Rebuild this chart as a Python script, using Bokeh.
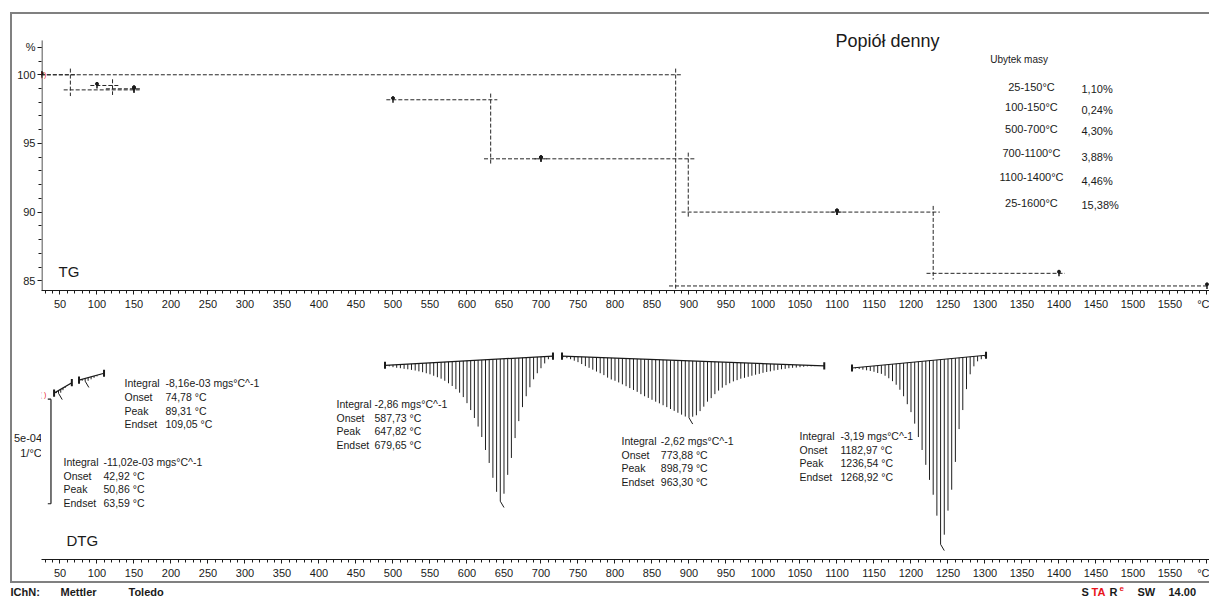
import numpy as np
from bokeh.plotting import figure
from bokeh.layouts import column, row
from bokeh.models import Label, FixedTicker, Range1d, Spacer
from bokeh.embed import file_html
from bokeh.resources import INLINE

FONT = "Liberation Sans"
INK = "#1a1a1a"
FRAME_GREY = "#808080"
RED = "#e8141b"

# ---------------- shared temperature axis (°C) ----------------
x_major = list(range(50, 1601, 50))
x_minor = list(range(30, 1601, 10))
x_start, x_end = 25, 1603.4

# ---------------- TG: stepwise mass-loss evaluations ----------------
step_ranges = ["25-150°C", "100-150°C", "500-700°C", "700-1100°C", "1100-1400°C", "25-1600°C"]
step_loss = [1.10, 0.24, 4.30, 3.88, 4.46, 15.38]          # %
step_start = [25, 100, 500, 700, 1100, 25]                 # °C
step_end = [150, 150, 700, 1100, 1400, 1600]               # °C
step_mid = [64, 121, 632, 899, 1230, 882]                  # °C, step position
step_upper = [100.00, 99.22, 98.18, 93.88, 90.00, 100.00]  # % before step

tg_major = [85, 90, 95, 100, 102]
tg_minor = list(range(84, 103))
tg_axis_top = 102.5

# ---------------- DTG: integrated peaks ----------------
peak_integral = ["-11,02e-03", "-8,16e-03", "-2,86", "-2,62", "-3,19"]
peak_onset = [42.92, 74.78, 587.73, 773.88, 1182.97]
peak_top = [50.86, 89.31, 647.82, 898.79, 1236.54]
peak_endset = [63.59, 109.05, 679.65, 963.30, 1268.92]

# integration baselines, DTG in 1e-4 1/°C
base_t0 = [42.0, 75.7, 489.2, 728.4, 1120.3]
base_v0 = [-2.52, -1.90, -1.19, -0.75, -1.32]
base_t1 = [66.0, 109.5, 716.2, 1082.8, 1301.4]
base_v1 = [-2.02, -1.57, -0.75, -1.22, -0.71]

# DTG curve samples inside each integration window
dtg_a_t = [42, 45, 48, 51, 54, 57, 60, 63, 66]
dtg_a_v = [-2.52, -2.52, -2.53, -2.50, -2.38, -2.27, -2.17, -2.10, -2.02]

dtg_b_t = [76, 80, 84, 88, 92, 96, 100, 104, 108]
dtg_b_v = [-1.90, -1.93, -1.95, -1.93, -1.86, -1.79, -1.72, -1.65, -1.59]

dtg_c_t = list(range(490, 716, 5))
dtg_c_v = [-1.19, -1.24, -1.28, -1.31, -1.33, -1.36, -1.38, -1.41, -1.44, -1.48,
           -1.52, -1.57, -1.62, -1.69, -1.76, -1.83, -1.93, -2.05, -2.18, -2.33,
           -2.50, -2.71, -3.00, -3.33, -3.71, -4.12, -4.62, -5.24, -5.86, -6.57,
           -7.24, -7.69, -7.33, -6.43, -5.62, -4.67, -3.86, -3.19, -2.67, -2.24,
           -1.86, -1.57, -1.33, -1.10, -0.90, -0.79]

dtg_d_t = list(range(730, 1081, 5))
dtg_d_v = [-0.80, -0.85, -0.90, -0.97, -1.04, -1.13, -1.23, -1.31, -1.40, -1.49,
           -1.57, -1.66, -1.78, -1.87, -1.93, -2.01, -2.10, -2.19, -2.28, -2.37,
           -2.46, -2.57, -2.67, -2.75, -2.84, -2.93, -3.01, -3.10, -3.19, -3.28,
           -3.37, -3.46, -3.55, -3.64, -3.70, -3.65, -3.58, -3.38, -3.17, -2.93,
           -2.76, -2.57, -2.40, -2.26, -2.14, -2.05, -1.96, -1.90, -1.83, -1.79,
           -1.74, -1.69, -1.64, -1.60, -1.55, -1.51, -1.48, -1.44, -1.41, -1.38,
           -1.36, -1.33, -1.31, -1.30, -1.28, -1.26, -1.24, -1.24, -1.23, -1.22,
           -1.22]

dtg_e_t = list(range(1120, 1301, 5))
dtg_e_v = [-1.32, -1.34, -1.37, -1.40, -1.43, -1.46, -1.50, -1.56, -1.60, -1.69,
           -1.81, -1.95, -2.12, -2.36, -2.67, -3.05, -3.43, -3.98, -4.62, -5.24,
           -5.95, -6.67, -7.38, -8.38, -9.75, -9.29, -8.14, -7.14, -5.81, -4.24,
           -3.33, -2.33, -1.62, -1.24, -1.00, -0.90, -0.78]

dtg_curves = [(dtg_a_t, dtg_a_v), (dtg_b_t, dtg_b_v), (dtg_c_t, dtg_c_v),
              (dtg_d_t, dtg_d_v), (dtg_e_t, dtg_e_v)]

dtg_scale = 5.0  # scale bar length, 1e-4 1/°C -> "5e-04"
dtg_yrange = (-10.476, 1.143)


def dec(v):
    return f"{v:.2f}".replace(".", ",")


def style_axis(ax):
    ax.axis_line_color = INK
    ax.axis_line_width = 1
    ax.major_tick_line_color = INK
    ax.minor_tick_line_color = INK
    ax.major_tick_out = 4
    ax.major_tick_in = 0
    ax.minor_tick_out = 3
    ax.minor_tick_in = 0
    ax.major_label_text_font = FONT
    ax.major_label_text_font_size = "11px"
    ax.major_label_text_color = INK


def bare(p):
    p.grid.visible = False
    p.outline_line_color = None
    p.background_fill_color = "white"
    p.border_fill_color = "white"
    return p


def make_panel(width, height, y_range, left, top, bottom, with_y):
    p = figure(width=width, height=height,
               x_range=Range1d(x_start, x_end), y_range=y_range,
               output_backend="svg", toolbar_location=None,
               y_axis_location="left" if with_y else None,
               min_border_left=left, min_border_right=0,
               min_border_top=top, min_border_bottom=bottom)
    bare(p)
    p.xaxis.ticker = FixedTicker(ticks=x_major, minor_ticks=x_minor)
    p.xaxis.major_label_overrides = {1600: "°C"}
    p.xaxis.major_label_standoff = 3
    style_axis(p.xaxis[0])
    return p


def make_plain(width, height, x_range, y_range, top=0, bottom=0):
    p = figure(width=width, height=height, x_range=x_range, y_range=y_range,
               output_backend="svg", toolbar_location=None,
               x_axis_location=None, y_axis_location=None,
               min_border_left=0, min_border_right=0,
               min_border_top=top, min_border_bottom=bottom)
    return bare(p)


def label(p, x, y, text, size="11px", align="left", color=INK, bold=False, baseline="middle"):
    p.add_layout(Label(x=x, y=y, text=text, text_font=FONT, text_font_size=size,
                       text_color=color, text_align=align, text_baseline=baseline,
                       text_font_style="bold" if bold else "normal"))


def rule(width, height):
    return Spacer(width=width, height=height, styles={"background-color": FRAME_GREY})


# =================== TG panel ===================
tg = make_panel(1197, 299, Range1d(84.29, 103.37), 29, 14, 23, True)
tg.yaxis.ticker = FixedTicker(ticks=tg_major, minor_ticks=tg_minor)
tg.yaxis.major_label_overrides = {102: "%"}
tg.yaxis.major_label_standoff = 2
style_axis(tg.yaxis[0])
tg.yaxis.axis_line_color = None
# vertical axis line, ending at the top of the % scale
tg.segment(x0=[25.68], y0=[84.29], x1=[25.68], y1=[tg_axis_top], line_color=INK, line_width=1)

upper = np.array(step_upper)
lower = upper - np.array(step_loss)
mid = np.array(step_mid, dtype=float)
dash = dict(line_color="#262626", line_width=1, line_dash="4 2")

# levels before / after each step and the step itself
tg.segment(x0=np.array(step_start) - 9, y0=upper, x1=mid + 9, y1=upper, **dash)
tg.segment(x0=mid - 9, y0=lower, x1=np.array(step_end) + 8, y1=lower, **dash)
tg.segment(x0=mid, y0=upper + 0.45, x1=mid, y1=lower - 0.45, **dash)

# evaluation limit markers
mx = step_start + step_end
my = list(upper) + list(lower)
tg.scatter(mx, my, marker="dash", angle=np.pi / 2, size=6, line_width=1.5, color=INK)
tg.scatter(mx, np.array(my) + 0.12, marker="circle", size=3, color=INK)

label(tg, 29.7, 100.02, "(   )", size="7px", align="center", color=RED)
label(tg, 1098, 102.43, "Popiół denny", size="18px")
label(tg, 1307, 101.11, "Ubytek masy", size="10px")
range_y = [99.10, 97.62, 96.02, 94.27, 92.52, 90.63]
loss_y = [98.93, 97.47, 95.94, 93.98, 92.23, 90.55]
for r, loss, ry, ly in zip(step_ranges, step_loss, range_y, loss_y):
    label(tg, 1362.8, ry, r, align="center")
    label(tg, 1430.4, ly, dec(loss) + "%")
label(tg, 48, 85.70, "TG", size="15px")

# =================== DTG panel ===================
dtg = make_panel(1168, 268, Range1d(*dtg_yrange), 0, 3, 21, False)

hx, hy0, hy1 = [], [], []
sx0, sy0, sx1, sy1 = [], [], [], []
for (ts, vs), t0, v0, t1, v1 in zip(dtg_curves, base_t0, base_v0, base_t1, base_v1):
    ts = np.array(ts, dtype=float)
    vs = np.array(vs)
    base = v0 + (ts - t0) * (v1 - v0) / (t1 - t0)
    hx += list(ts)
    hy0 += list(base)
    hy1 += list(vs)
    k = int(np.argmin(vs))
    sx0.append(ts[k]); sy0.append(vs[k]); sx1.append(ts[k] + 5); sy1.append(vs[k] - 0.3)

# hatched integration areas
dtg.segment(x0=hx, y0=hy0, x1=hx, y1=hy1, line_color="#1f1f1f", line_width=1)
# baselines with end brackets
dtg.segment(x0=base_t0, y0=base_v0, x1=base_t1, y1=base_v1, line_color=INK, line_width=1.2)
ends_t = base_t0 + base_t1
ends_v = np.array(base_v0 + base_v1)
dtg.segment(x0=ends_t, y0=ends_v + 0.17, x1=ends_t, y1=ends_v - 0.17, line_color=INK, line_width=2)
# peak markers
dtg.segment(x0=sx0, y0=sy0, x1=sx1, y1=sy1, line_color=INK, line_width=1)

# scale bar
bar_top = -2.81
dtg.segment(x0=[37.8, 33.5, 33.5], y0=[bar_top, bar_top, bar_top - dtg_scale],
            x1=[37.8, 37.8, 37.8], y1=[bar_top - dtg_scale, bar_top, bar_top - dtg_scale],
            line_color=INK, line_width=1.2)
label(dtg, 29.7, -2.57, "(   )", size="7px", align="center", color=RED)

# evaluation results
block_pos = [(54.7, 108.8, -5.81), (137.2, 192.6, -2.05), (423.6, 475.0, -3.05),
             (808.8, 862.0, -4.81), (1049.3, 1104.7, -4.57)]
row_step = 0.652
for (bx, vx, by), integ, on, pk, en in zip(block_pos, peak_integral, peak_onset, peak_top, peak_endset):
    names = ["Integral", "Onset", "Peak", "Endset"]
    vals = [integ + " mgs°C^-1", dec(on) + " °C", dec(pk) + " °C", dec(en) + " °C"]
    for i, (n, v) in enumerate(zip(names, vals)):
        label(dtg, bx, by - i * row_step, n, size="10.5px")
        label(dtg, vx, by - i * row_step, v, size="10.5px")

label(dtg, 58.8, -9.57, "DTG", size="15px")

# scale-bar caption, left of the DTG frame (same vertical scale)
dtg_cap = make_plain(29, 268, Range1d(12, 41), Range1d(*dtg_yrange), top=3, bottom=21)
label(dtg_cap, 27.5, -4.68, "5e-04", align="center")
label(dtg_cap, 30.5, -5.37, "1/°C", align="center")

# =================== footer ===================
footer = make_plain(1209, 15, Range1d(0, 1209), Range1d(15, 0))
foot = dict(size="11px", bold=True)
label(footer, 10, 8, "IChN:", **foot)
label(footer, 60, 8, "Mettler", **foot)
label(footer, 128, 8, "Toledo", **foot)
label(footer, 1081, 8, "S", **foot)
label(footer, 1091, 8, "TA", color=RED, **foot)
label(footer, 1109, 8, "R", **foot)
label(footer, 1119, 5, "e", size="8px", bold=True, color=RED)
label(footer, 1137, 8, "SW", **foot)
label(footer, 1168, 8, "14.00", **foot)

# =================== page assembly with grey frame ===================
body = row(Spacer(width=10, height=567), rule(2, 567),
           column(tg, row(dtg_cap, dtg)))
layout = column(
    Spacer(width=1209, height=12),
    row(Spacer(width=10, height=2), rule(1199, 2)),
    body,
    row(Spacer(width=10, height=2), rule(1199, 2)),
    footer,
)
open("out.html", "w").write(file_html(layout, INLINE))
